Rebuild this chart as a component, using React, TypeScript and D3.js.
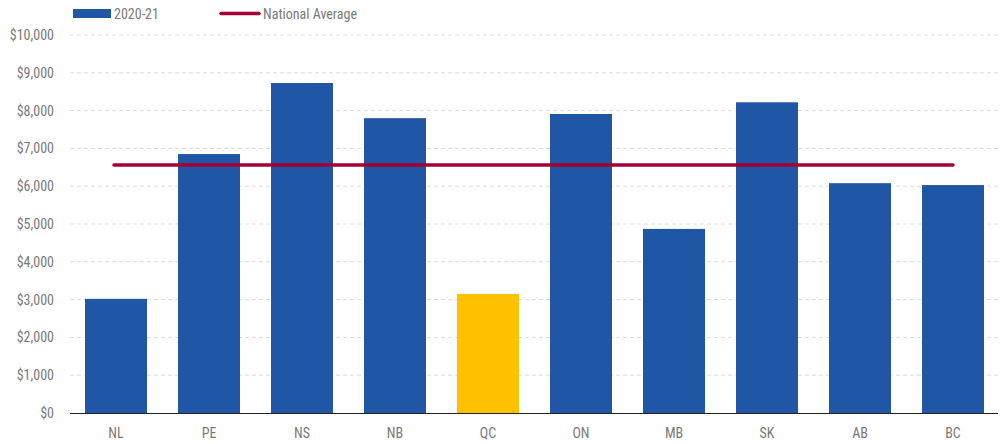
import { useRef, useEffect } from "react";
import * as d3 from "d3";

const provinces = ["NL", "PE", "NS", "NB", "QC", "ON", "MB", "SK", "AB", "BC"];
const values2020 = [3020, 6850, 8730, 7800, 3150, 7910, 4870, 8220, 6080, 6030];
const nationalAverage = 6560;
const yTicks = [0, 1000, 2000, 3000, 4000, 5000, 6000, 7000, 8000, 9000, 10000];
const highlight = "QC";

const W = 1004;
const H = 444;
const FONT = "'Liberation Sans Narrow', 'Roboto Condensed', 'Arial Narrow', sans-serif";

const App = () => {
  const svgRef = useRef<SVGSVGElement>(null);

  useEffect(() => {
    const svg = d3.select(svgRef.current);
    svg.selectAll("*").remove();

    const x = d3.scaleBand().domain(provinces).range([69.5, 999.5]).paddingInner(1 / 3).paddingOuter(1 / 6);
    const y = d3.scaleLinear().domain([0, 10000]).range([413, 35]);

    // grid
    svg.append("g")
      .selectAll("line")
      .data(yTicks.filter((d) => d > 0))
      .enter()
      .append("line")
      .attr("x1", 70)
      .attr("x2", 998)
      .attr("y1", (d) => y(d))
      .attr("y2", (d) => y(d))
      .attr("stroke", "#dcdcdc")
      .attr("stroke-dasharray", "4,3");

    // y labels
    svg.append("g")
      .selectAll("text")
      .data(yTicks)
      .enter()
      .append("text")
      .attr("x", 54)
      .attr("y", (d) => y(d))
      .attr("dy", "0.35em")
      .attr("text-anchor", "end")
      .attr("font-family", FONT)
      .attr("font-size", 14)
      .attr("fill", "#7a7a7a")
      .text((d) => d3.format("$,")(d));

    // bars
    svg.append("g")
      .selectAll("rect")
      .data(provinces)
      .enter()
      .append("rect")
      .attr("x", (d) => x(d)!)
      .attr("width", x.bandwidth())
      .attr("y", (d, i) => y(values2020[i]))
      .attr("height", (d, i) => y(0) - y(values2020[i]))
      .attr("fill", (d) => (d === highlight ? "#ffc000" : "#1f56a5"));

    // baseline
    svg.append("line")
      .attr("x1", 70)
      .attr("x2", 998)
      .attr("y1", y(0) + 0.5)
      .attr("y2", y(0) + 0.5)
      .attr("stroke", "#222")
      .attr("stroke-width", 1.2);

    // x labels
    svg.append("g")
      .selectAll("text")
      .data(provinces)
      .enter()
      .append("text")
      .attr("x", (d) => x(d)! + x.bandwidth() / 2)
      .attr("y", 433)
      .attr("dy", "0.35em")
      .attr("text-anchor", "middle")
      .attr("font-family", FONT)
      .attr("font-size", 14)
      .attr("fill", "#7a7a7a")
      .text((d) => d);

    // national average line
    const first = provinces[0];
    const last = provinces[provinces.length - 1];
    svg.append("line")
      .attr("x1", x(first)! + x.bandwidth() / 2 - 2)
      .attr("x2", x(last)! + x.bandwidth() / 2)
      .attr("y1", y(nationalAverage))
      .attr("y2", y(nationalAverage))
      .attr("stroke", "#a50034")
      .attr("stroke-width", 3.5)
      .attr("stroke-linecap", "round");

    // legend
    const lg = svg.append("g");
    lg.append("rect").attr("x", 73).attr("y", 9).attr("width", 38).attr("height", 9).attr("fill", "#1f56a5");
    lg.append("text")
      .attr("x", 114)
      .attr("y", 14)
      .attr("dy", "0.35em")
      .attr("font-family", FONT)
      .attr("font-size", 14)
      .attr("fill", "#7a7a7a")
      .text("2020-21");
    lg.append("line")
      .attr("x1", 221)
      .attr("x2", 259)
      .attr("y1", 13.5)
      .attr("y2", 13.5)
      .attr("stroke", "#a50034")
      .attr("stroke-width", 3.5)
      .attr("stroke-linecap", "round");
    lg.append("text")
      .attr("x", 263)
      .attr("y", 14)
      .attr("dy", "0.35em")
      .attr("font-family", FONT)
      .attr("font-size", 14)
      .attr("fill", "#7a7a7a")
      .text("National Average");
  }, []);

  return (
    <svg
      ref={svgRef}
      width={W}
      height={H}
      style={{ position: "fixed", top: 0, left: 0, background: "#fff" }}
    ></svg>
  );
};

export default App;
